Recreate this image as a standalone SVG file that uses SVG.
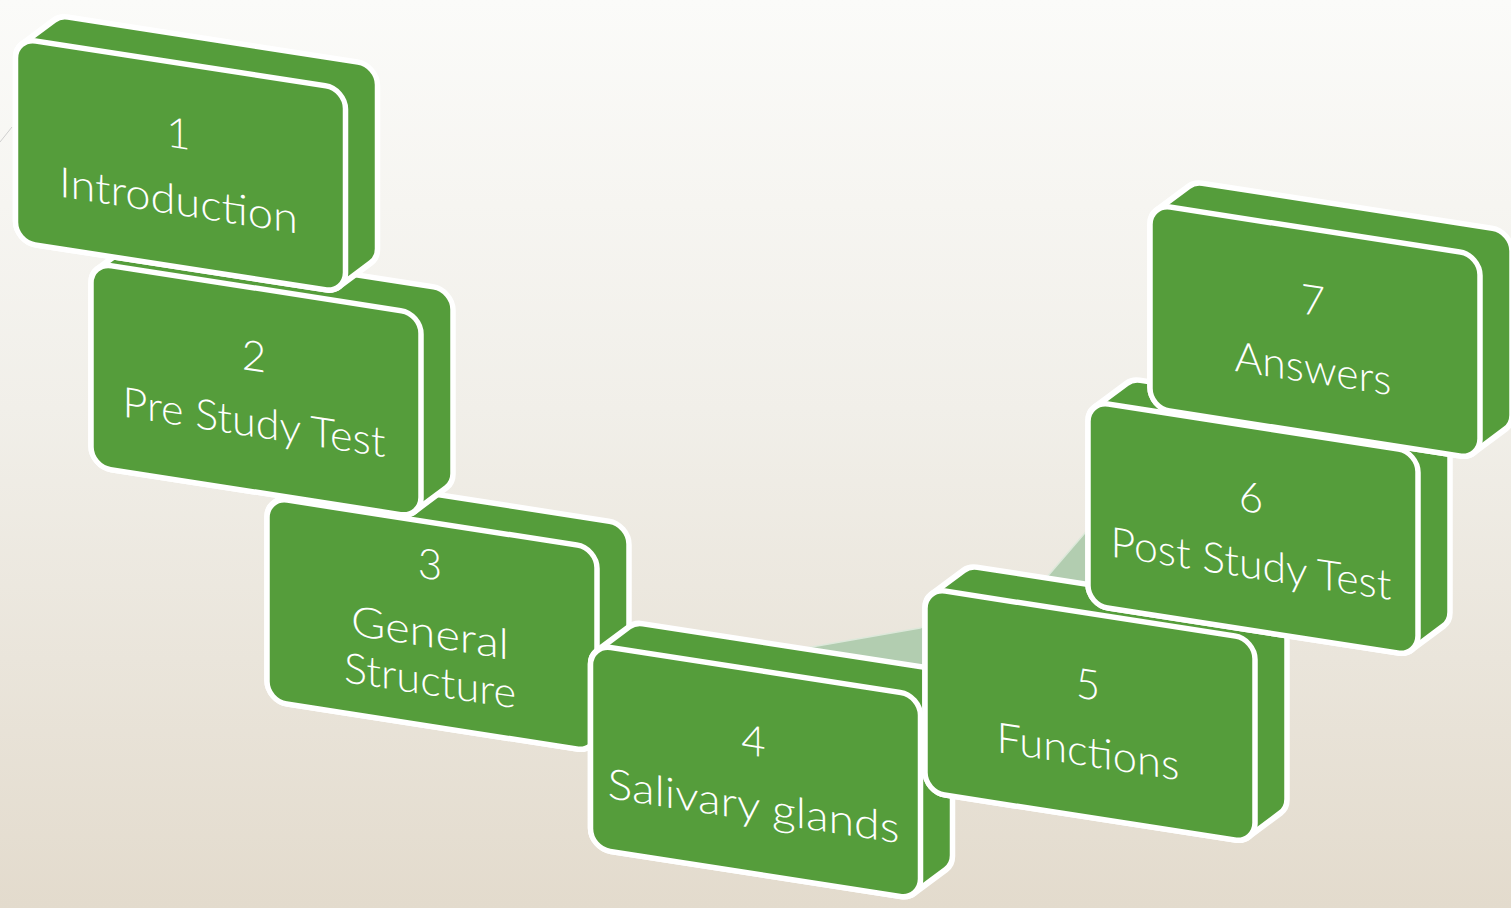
<svg xmlns="http://www.w3.org/2000/svg" xmlns:xlink="http://www.w3.org/1999/xlink" width="1511" height="908" viewBox="0 0 1511 908">
  <defs>
    <linearGradient id="bg" x1="0" y1="0" x2="0" y2="1">
      <stop offset="0" stop-color="#fbfbf9"/>
      <stop offset="0.45" stop-color="#f1efe9"/>
      <stop offset="1" stop-color="#e3dbcd"/>
    </linearGradient>
    <!-- extruded block: front face swept back along (32,-28.8) -->
    <path id="hull" d="M6.62,5.13 L38.62,-23.67 A20,20 0 0 1 52,-28.8 L342,-28.8 A20,20 0 0 1 362,-8.8 L362,155.2 A20,20 0 0 1 355.38,170.07 L323.38,198.87 A20,20 0 0 1 310,204 L20,204 A20,20 0 0 1 0,184 L0,20 A20,20 0 0 1 6.62,5.13 Z"/>
    <rect id="face" x="0" y="0" width="330" height="204" rx="20" ry="20"/>
  </defs>
  <style>
    .solid { fill: #559d3b; stroke: #ffffff; stroke-width: 5.5; stroke-linejoin: round; }
    .txt { font-family: Lato, "Liberation Sans", sans-serif; font-weight: 300; font-size: 42px; fill: #ffffff; text-anchor: middle; }
    .flow { fill: #b2cdb0; }
    .flow-edge { fill: none; stroke: #dde8da; stroke-width: 1.5; }
  </style>

  <rect x="0" y="0" width="1511" height="908" fill="url(#bg)"/>
  <line x1="0" y1="142" x2="12" y2="127" stroke="#cfcfcf" stroke-width="1"/>

  <!-- pale band running behind the blocks -->
  <g id="connectors">
    <polygon class="flow" points="800,649 920,628 1046,578 1090,527 1090,640 920,720 800,700"/>
    <polyline class="flow-edge" points="800,649 920,628 1046,578 1090,527"/>
  </g>

  <g id="node3" transform="translate(267,497) skewY(8.81)">
    <use xlink:href="#hull" class="solid"/>
    <use xlink:href="#face" class="solid"/>
    <text class="txt" x="163" y="57">3</text>
    <text class="txt" x="163" y="125" textLength="158" lengthAdjust="spacingAndGlyphs">General</text>
    <text class="txt" x="163" y="173" textLength="172" lengthAdjust="spacingAndGlyphs">Structure</text>
  </g>

  <g id="node2" transform="translate(91,262.6) skewY(8.81)">
    <use xlink:href="#hull" class="solid"/>
    <use xlink:href="#face" class="solid"/>
    <text class="txt" x="163" y="83">2</text>
    <text class="txt" x="163" y="149" textLength="263" lengthAdjust="spacingAndGlyphs">Pre Study Test</text>
  </g>

  <g id="node1" transform="translate(15.5,37.8) skewY(8.81)">
    <use xlink:href="#hull" class="solid"/>
    <use xlink:href="#face" class="solid"/>
    <text class="txt" x="163" y="85">1</text>
    <text class="txt" x="163" y="152" textLength="239" lengthAdjust="spacingAndGlyphs">Introduction</text>
  </g>

  <g id="node4" transform="translate(590.5,644.4) skewY(8.81)">
    <use xlink:href="#hull" class="solid"/>
    <use xlink:href="#face" class="solid"/>
    <text class="txt" x="163" y="86">4</text>
    <text class="txt" x="163" y="151" textLength="292" lengthAdjust="spacingAndGlyphs">Salivary glands</text>
  </g>

  <g id="node5" transform="translate(925,588) skewY(8.81)">
    <use xlink:href="#hull" class="solid"/>
    <use xlink:href="#face" class="solid"/>
    <text class="txt" x="163" y="86">5</text>
    <text class="txt" x="163" y="153" textLength="183" lengthAdjust="spacingAndGlyphs">Functions</text>
  </g>

  <g id="node6" transform="translate(1088,401) skewY(8.81)">
    <use xlink:href="#hull" class="solid"/>
    <use xlink:href="#face" class="solid"/>
    <text class="txt" x="163" y="86">6</text>
    <text class="txt" x="163" y="152" textLength="281" lengthAdjust="spacingAndGlyphs">Post Study Test</text>
  </g>

  <g id="node7" transform="translate(1150,204) skewY(8.81)">
    <use xlink:href="#hull" class="solid"/>
    <use xlink:href="#face" class="solid"/>
    <text class="txt" x="163" y="86">7</text>
    <text class="txt" x="163" y="154" textLength="157" lengthAdjust="spacingAndGlyphs">Answers</text>
  </g>
</svg>
